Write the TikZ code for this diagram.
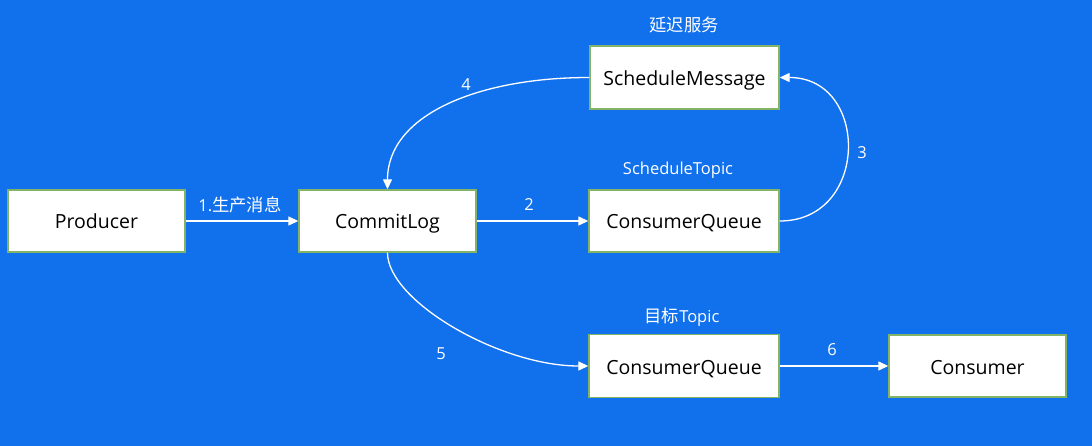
\documentclass[tikz,border=0pt]{standalone}
\usepackage{fontspec}
\setmainfont{Open Sans}
\newfontfamily\cjk{Noto Sans CJK SC}[Scale=1.05]
\usetikzlibrary{arrows.meta}
\definecolor{bgblue}{HTML}{1170EC}
\definecolor{boxgreen}{HTML}{82B366}
\tikzset{
  box/.style={draw=boxgreen, line width=1.4pt, fill=white, text=black, inner sep=0pt,
    text height=16pt, text depth=0pt, font=\fontsize{19.5}{22}\selectfont},
  conn/.style={draw=white, line width=1.3pt, -{Triangle[length=10pt,width=9pt]}},
  lbl/.style={text=white, inner sep=0pt, font=\fontsize{16.5}{19}\selectfont}
}
\begin{document}
\begin{tikzpicture}[x=1pt,y=-1pt]
\fill[bgblue] (0,0) rectangle (1092,446);
\useasboundingbox (0,0) rectangle (1092,446);
% boxes
\node[box, minimum width=177pt, minimum height=62pt] (prod) at (96.5,221) {Producer};
\node[box, minimum width=177pt, minimum height=62pt] (clog) at (387.5,221) {CommitLog};
\node[box, minimum width=190pt, minimum height=62pt] (cq1) at (684,221) {ConsumerQueue};
\node[box, minimum width=189pt, minimum height=63pt] (sm) at (684.5,77.5) {ScheduleMessage};
\node[box, minimum width=190pt, minimum height=63pt] (cq2) at (684,366) {ConsumerQueue};
\node[box, minimum width=177pt, minimum height=62pt] (cons) at (977.5,366) {Consumer};
% captions
\node[lbl] (t1) at (684,25) {\cjk 延迟服务};
\node[lbl] (t2) at (678,170) {ScheduleTopic};
\node[lbl] (t3) at (682,317) {{\cjk 目标}Topic};
% connectors
\draw[conn] (prod.east) -- (clog.west);
\draw[conn] (clog.east) -- (cq1.west);
\draw[conn] (cq2.east) -- (cons.west);
\draw[conn] (cq1.east) .. controls +(90,0) and +(90,0) .. (sm.east);
\draw[conn] (sm.west) .. controls +(-110,0) and +(0,-75) .. (clog.north);
\draw[conn] (clog.south) .. controls +(0,48) and +(-89,0) .. (cq2.west);
% edge labels
\node[lbl] (l1) at (240,205) {1.{\cjk 生产消息}};
\node[lbl] (l2) at (529,205) {2};
\node[lbl] (l3) at (862,153) {3};
\node[lbl] (l4) at (466,85) {4};
\node[lbl] (l5) at (441,354) {5};
\node[lbl] (l6) at (832,350) {6};
\end{tikzpicture}
\end{document}
